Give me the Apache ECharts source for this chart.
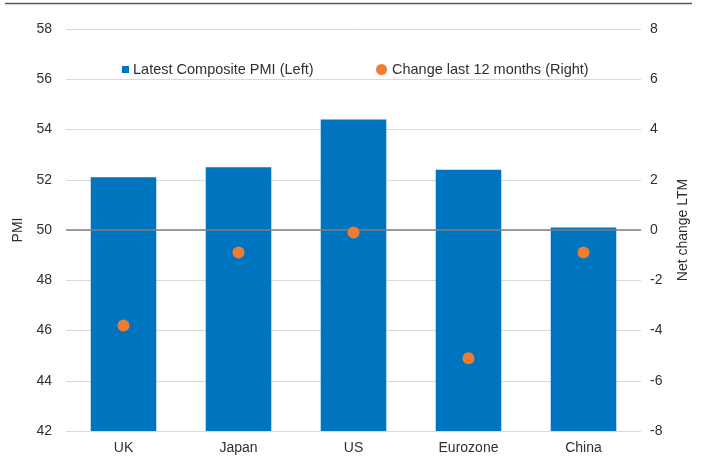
<!DOCTYPE html>
<html>
<head>
<meta charset="utf-8">
<script src="https://cdn.jsdelivr.net/npm/echarts@6/dist/echarts.min.js"></script>
<style>
html,body{margin:0;padding:0;background:#fff;}
#chart{width:702px;height:476px;}
</style>
</head>
<body>
<div id="chart"></div>
<script>
var categories = ['UK', 'Japan', 'US', 'Eurozone', 'China'];
var pmiLatest = [52.1, 52.5, 54.4, 52.4, 50.1];
var changeLTM = [-3.8, -0.9, -0.1, -5.1, -0.9];
var barName = 'Latest Composite PMI (Left)';
var dotName = 'Change last 12 months (Right)';

var chart = echarts.init(document.getElementById('chart'), null, {renderer: 'canvas'});
var font = 'Liberation Sans, Arial, sans-serif';
var txt = '#303030';
chart.setOption({
  animation: false,
  backgroundColor: '#ffffff',
  textStyle: {fontFamily: font},
  graphic: [{
    type: 'line',
    shape: {x1: 5, y1: 3.5, x2: 692, y2: 3.5},
    style: {stroke: '#595959', lineWidth: 1.5}
  }],
  legend: [{
    data: [barName],
    left: 122, top: 62, padding: 0,
    icon: 'rect', itemWidth: 7, itemHeight: 7,
    textStyle: {fontSize: 14.5, color: txt, fontFamily: font, padding: [0, 0, 0, -1]}
  }, {
    data: [dotName],
    left: 376, top: 62, padding: 0,
    icon: 'circle', itemWidth: 11, itemHeight: 11,
    textStyle: {fontSize: 14.5, color: txt, fontFamily: font}
  }],
  grid: {left: 66, right: 61, top: 29, bottom: 45, containLabel: false},
  xAxis: {
    type: 'category',
    data: categories,
    axisLine: {show: false},
    axisTick: {show: false},
    axisLabel: {fontSize: 14, color: txt, margin: 10, fontFamily: font}
  },
  yAxis: [{
    type: 'value', min: 42, max: 58, interval: 2,
    name: 'PMI', nameLocation: 'middle', nameGap: 40, nameRotate: 90,
    nameTextStyle: {fontSize: 14, color: txt, fontFamily: font},
    axisLine: {show: false}, axisTick: {show: false},
    axisLabel: {fontSize: 14, color: txt, margin: 14, fontFamily: font},
    splitLine: {lineStyle: {color: '#d9d9d9', width: 1}}
  }, {
    type: 'value', min: -8, max: 8, interval: 2, position: 'right',
    name: 'Net change LTM', nameLocation: 'middle', nameGap: 35, nameRotate: 90,
    nameTextStyle: {fontSize: 14, color: txt, fontFamily: font},
    axisLine: {show: false}, axisTick: {show: false},
    axisLabel: {fontSize: 14, color: txt, margin: 9, fontFamily: font},
    splitLine: {show: false}
  }],
  series: [{
    name: barName,
    type: 'bar',
    data: pmiLatest,
    barWidth: '57%',
    itemStyle: {color: '#0075BF'},
    markLine: {
      silent: true, symbol: 'none',
      label: {show: false},
      lineStyle: {color: '#808080', width: 1.5, type: 'solid'},
      data: [{yAxis: 50}]
    }
  }, {
    name: dotName,
    type: 'scatter',
    yAxisIndex: 1,
    data: changeLTM,
    symbol: 'circle',
    symbolSize: 12,
    itemStyle: {color: '#ED7D31', opacity: 1},
    z: 5
  }]
});
</script>
</body>
</html>
